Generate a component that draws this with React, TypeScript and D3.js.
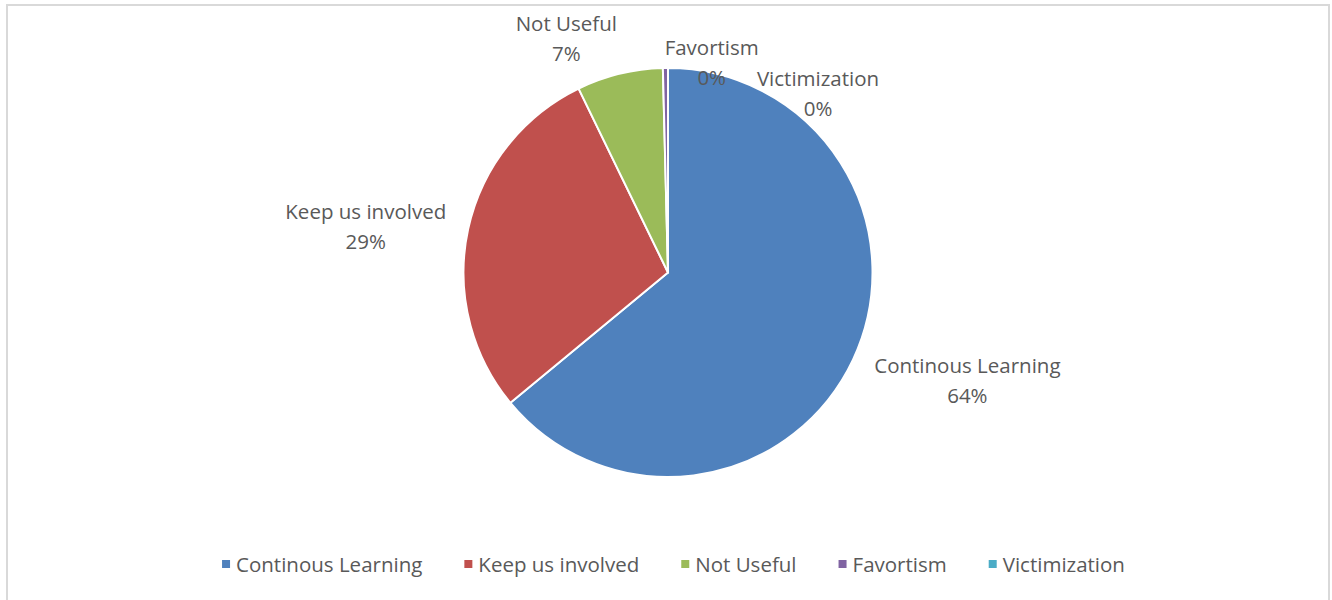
import React, { useEffect, useRef } from "react";
import * as d3 from "d3";

const categories = ["Continous Learning", "Keep us involved", "Not Useful", "Favortism", "Victimization"];
const counts = [160, 72, 17, 1, 0];
const percentLabels = ["64%", "29%", "7%", "0%", "0%"];
const colors = ["#4F81BD", "#C0504D", "#9BBB59", "#8064A2", "#4BACC6"];
// label nudges (Excel best-fit collision adjustments)
const labelNudge: [number, number][] = [[21, 3], [-14, 5], [-39, 3], [47, 34], [150, 65]];

const W = 1332, H = 600;
const FONT = "'Open Sans', sans-serif";
const FS = 20.5;

export default function App() {
  const ref = useRef<SVGSVGElement>(null);
  useEffect(() => {
    const svg = d3.select(ref.current);
    svg.selectAll("*").remove();
    svg.append("rect").attr("x", 7).attr("y", 5).attr("width", 1322).attr("height", 610)
      .attr("fill", "#fff").attr("stroke", "#D9D9D9").attr("stroke-width", 2);

    const cx = 668, cy = 272.5, r = 204.5;
    const data = categories.map((c, i) => ({ c, v: counts[i], i }));
    const pie = d3.pie<any>().value((d) => d.v).sort(null);
    const arcs = pie(data);
    const arc = d3.arc<any>().innerRadius(0).outerRadius(r);
    const g = svg.append("g").attr("transform", `translate(${cx},${cy})`);
    g.selectAll("path").data(arcs.filter((a) => a.data.v > 0)).join("path")
      .attr("d", arc as any).attr("fill", (d: any) => colors[d.data.i])
      .attr("stroke", "#fff").attr("stroke-width", 2).attr("stroke-linejoin", "round");

    // labels
    arcs.forEach((a, i) => {
      const mid = (a.startAngle + a.endAngle) / 2;
      const dx = Math.sin(mid), dy = -Math.cos(mid);
      const lg = g.append("g");
      const t1 = lg.append("text").text(categories[i]);
      const t2 = lg.append("text").text(percentLabels[i]);
      [t1, t2].forEach((t) => t.attr("font-family", FONT).attr("font-size", FS).attr("fill", "#595959")
        .attr("text-anchor", "middle").attr("dominant-baseline", "central"));
      const w = Math.max((t1.node() as any).getComputedTextLength(), (t2.node() as any).getComputedTextLength());
      const hw = w / 2, hh = 30;
      const px = (r + 10) * dx + hw * dx + labelNudge[i][0];
      const py = (r + 10) * dy + hh * dy + labelNudge[i][1];
      t1.attr("x", px).attr("y", py - 15);
      t2.attr("x", px).attr("y", py + 15);
    });

    // legend
    const lgd = svg.append("g");
    let x = 0;
    categories.forEach((c, i) => {
      const it = lgd.append("g");
      it.append("rect").attr("x", x).attr("y", 560).attr("width", 8).attr("height", 8).attr("fill", colors[i]);
      const t = it.append("text").attr("x", x + 14).attr("y", 564).attr("dominant-baseline", "central")
        .attr("font-family", FONT).attr("font-size", FS).attr("fill", "#595959").text(c);
      const tw = (t.node() as any).getComputedTextLength();
      x += 14 + tw + 42;
    });
    const total = x - 42;
    lgd.attr("transform", `translate(${673.5 - total / 2},0)`);
  }, []);
  return (
    <svg ref={ref} width={W} height={H} style={{ position: "absolute", left: 0, top: 0, overflow: "hidden" }} />
  );
}
